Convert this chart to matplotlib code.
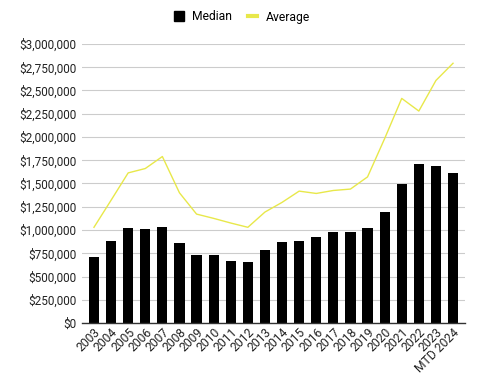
import matplotlib
matplotlib.use("Agg")
import matplotlib.pyplot as plt
from matplotlib.ticker import FuncFormatter, MultipleLocator
from matplotlib.lines import Line2D
from matplotlib.patches import Patch

plt.rcParams['font.family'] = ['Roboto', 'DejaVu Sans']

# Данные
years = ["2003", "2004", "2005", "2006", "2007", "2008", "2009", "2010",
         "2011", "2012", "2013", "2014", "2015", "2016", "2017", "2018",
         "2019", "2020", "2021", "2022", "2023", "MTD 2024"]
median = [707000, 879000, 1018000, 1007000, 1029000, 857000, 729000, 729000,
          664000, 654000, 782000, 868000, 879000, 929000, 975000, 975000,
          1018000, 1190000, 1490000, 1715000, 1693000, 1618000]
average = [1029000, 1320000, 1614000, 1661000, 1790000, 1400000, 1171000, 1125000,
           1075000, 1029000, 1193000, 1297000, 1418000, 1393000, 1425000, 1440000,
           1571000, 1983000, 2415000, 2279000, 2608000, 2793000]

fig = plt.figure(figsize=(4.84, 3.81), dpi=100)
ax = fig.add_axes([82 / 484, 1 - 323 / 381, 383 / 484, 279 / 381])

x = list(range(len(years)))
ax.bar(x, median, width=0.6, color="black", zorder=3)
ax.plot(x, average, color="#e8e84a", linewidth=1.0, zorder=4)

ax.set_ylim(0, 3000000)
ax.set_xlim(-0.7, len(years) - 0.3)
ax.yaxis.set_major_locator(MultipleLocator(250000))
ax.yaxis.set_major_formatter(FuncFormatter(lambda v, p: f"${v:,.0f}"))
ax.grid(axis="y", color="#cccccc", linewidth=0.8, zorder=0)

for s in ["top", "right", "left"]:
    ax.spines[s].set_visible(False)
ax.spines["bottom"].set_color("#333333")
ax.spines["bottom"].set_linewidth(1.0)
ax.spines["bottom"].set_zorder(5)

ax.tick_params(axis="y", length=0, labelsize=8.5, pad=4, colors="#222222")
ax.tick_params(axis="x", length=0, labelsize=8.7, pad=2, colors="#222222")
ax.set_xticks(x)
ax.set_xticklabels(years, rotation=45, ha="right", rotation_mode="anchor")

handles = [Patch(facecolor="black", edgecolor="black"),
           Line2D([0], [0], color="#e8e84a", linewidth=3)]
fig.legend(handles, ["Median", "Average"], loc="center", bbox_to_anchor=(0.5, 1 - 17 / 381),
           ncol=2, frameon=False, fontsize=8.7, handlelength=0.8, handleheight=0.9,
           columnspacing=1.3, handletextpad=0.7)

fig.savefig("out.png", dpi=100)
